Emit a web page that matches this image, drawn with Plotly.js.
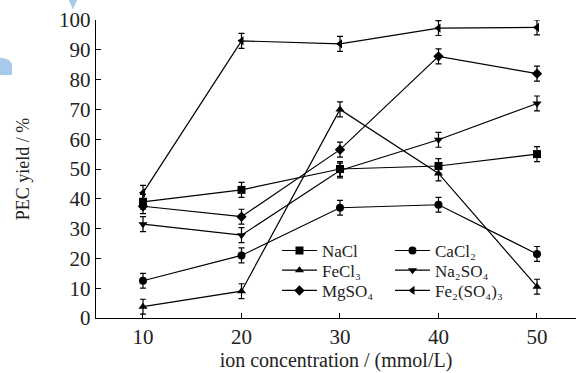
<!DOCTYPE html>
<html>
<head>
<meta charset="utf-8">
<script src="https://cdn.plot.ly/plotly-3.0.1.min.js"></script>
<style>html,body{margin:0;padding:0;background:#fff;}#chart{width:576px;height:373px;}</style>
</head>
<body>
<div id="chart"></div>
<script>
const concentrations = [10, 20, 30, 40, 50];
const nacl      = [39, 43, 50, 51, 55];
const cacl2     = [12.5, 21, 37, 38, 21.5];
const fecl3     = [3.8, 9, 70, 48.5, 10.5];
const na2so4    = [31.5, 27.8, 49.5, 59.8, 72];
const mgso4     = [37.5, 34, 56.5, 87.8, 82];
const fe2so43   = [42, 93, 92, 97.3, 97.5];
const errNacl   = [2.5, 2.5, 2.5, 2.5, 2.5];
const errCacl2  = [2.5, 2.5, 2.5, 2.5, 2.5];
const errFecl3  = [2.5, 2.5, 2.5, 2.5, 2.5];
const errNa2so4 = [2.5, 2.5, 2.5, 2.5, 2.5];
const errMgso4  = [2.5, 2.5, 2.5, 2.5, 2.5];
const errFe2so43= [2.5, 2.5, 2.5, 2.5, 2.5];
const seriesNames = ['NaCl', 'CaCl₂', 'FeCl₃', 'Na₂SO₄', 'MgSO₄', 'Fe₂(SO₄)₃'];
const xTicks = [10, 20, 30, 40, 50];
const yTicks = [0, 10, 20, 30, 40, 50, 60, 70, 80, 90, 100];

function series(name, y, err, symbol, legend) {
  return {
    x: concentrations, y: y, name: name, legend: legend,
    type: 'scatter', mode: 'lines+markers',
    line: {color: '#000', width: 1.2},
    marker: {symbol: symbol, size: 8, color: '#000'},
    error_y: {type: 'data', array: err, visible: true, color: '#000', thickness: 1.2, width: 3}
  };
}

const traces = [
  series(seriesNames[0], nacl, errNacl, 'square', 'legend'),
  series(seriesNames[1], cacl2, errCacl2, 'circle', 'legend2'),
  series(seriesNames[2], fecl3, errFecl3, 'triangle-up', 'legend3'),
  series(seriesNames[3], na2so4, errNa2so4, 'triangle-down', 'legend4'),
  series(seriesNames[4], mgso4, errMgso4, 'diamond', 'legend5'),
  series(seriesNames[5], fe2so43, errFe2so43, 'triangle-left', 'legend6')
];

const fontFam = 'Liberation Serif, Times New Roman, serif';
function leg(x, y) {
  return {
    font: {family: fontFam, size: 17, color: '#222'},
    bgcolor: 'rgba(0,0,0,0)', borderwidth: 0,
    tracegroupgap: 0, itemwidth: 35,
    xanchor: 'left', yanchor: 'middle', x: x, y: y
  };
}

const layout = {
  width: 576, height: 373,
  margin: {l: 96, r: 0, t: 20, b: 55},
  paper_bgcolor: '#fff', plot_bgcolor: '#fff',
  font: {family: fontFam, color: '#222'},
  showlegend: true,
  xaxis: {
    range: [5.23, 53.96], tickvals: xTicks, ticktext: xTicks.map(String),
    ticks: 'inside', ticklen: 5, tickcolor: '#000', tickwidth: 1,
    showline: true, linecolor: '#000', linewidth: 1.2, showgrid: false, zeroline: false,
    tickfont: {family: fontFam, size: 21, color: '#222'},
    title: {text: 'ion concentration / (mmol/L)', font: {family: fontFam, size: 20, color: '#222'}, standoff: 4}
  },
  yaxis: {
    range: [0, 100], tickvals: yTicks, ticktext: yTicks.map(String),
    ticks: 'inside', ticklen: 5, tickcolor: '#000', tickwidth: 1,
    showline: true, linecolor: '#000', linewidth: 1.2, showgrid: false, zeroline: false,
    tickfont: {family: fontFam, size: 21, color: '#222'},
    title: {text: 'PEC yield / %', font: {family: fontFam, size: 18, color: '#222'}, standoff: 24}
  },
  legend:  leg(0.377, 0.225),
  legend2: leg(0.6125, 0.225),
  legend3: leg(0.377, 0.159),
  legend4: leg(0.6125, 0.159),
  legend5: leg(0.377, 0.091),
  legend6: leg(0.6125, 0.091),
  shapes: [
    {type: 'path', xref: 'paper', yref: 'paper', path: 'M -0.066 1.1 L -0.03 1.1 L -0.048 1.035 Z',
     fillcolor: '#a9c9ea', line: {width: 0}, layer: 'above'},
    {type: 'path', xref: 'paper', yref: 'paper', path: 'M -0.2 0.873 Q -0.176 0.872 -0.175 0.845 L -0.175 0.8154 L -0.2 0.8154 Z',
     fillcolor: '#a9c9ea', line: {width: 0}, layer: 'above'}
  ]
};

Plotly.newPlot('chart', traces, layout, {displayModeBar: false, staticPlot: true});
</script>
</body>
</html>
